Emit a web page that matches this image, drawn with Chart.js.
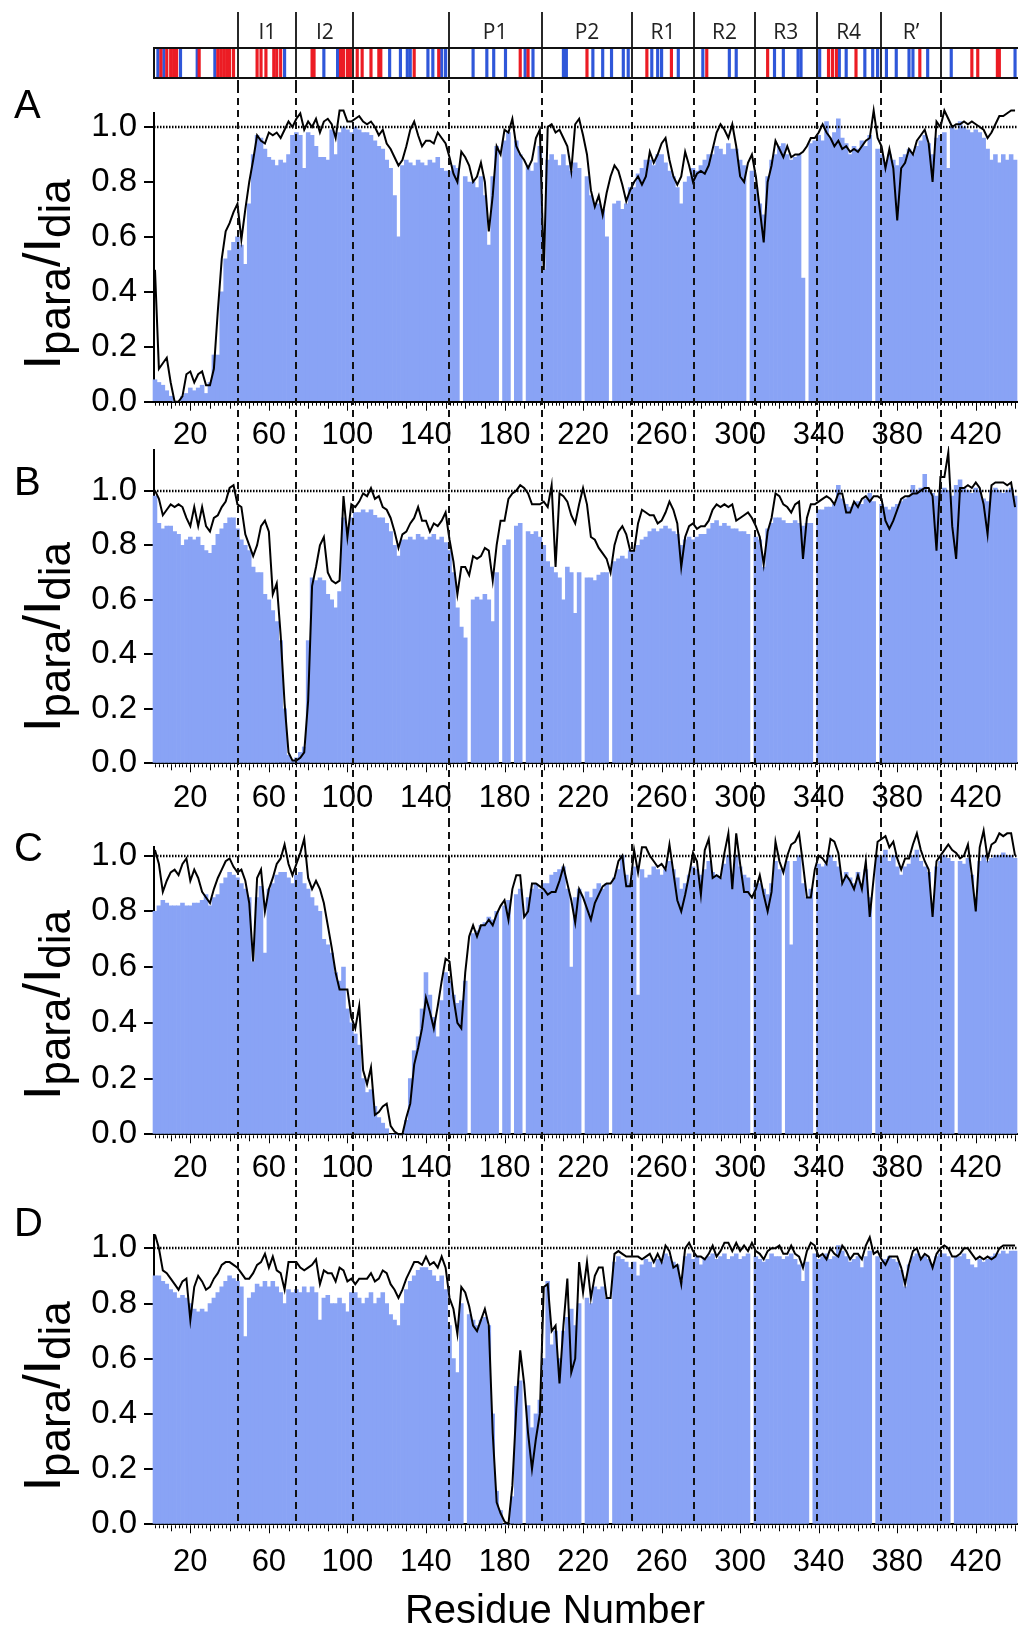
<!DOCTYPE html>
<html>
<head>
<meta charset="utf-8">
<title>Ipara/Idia profiles</title>
<script src="https://cdn.jsdelivr.net/npm/chart.js@4.4.1/dist/chart.umd.min.js"></script>
<style>
  html, body { margin: 0; padding: 0; background: #fff; }
  #page { position: relative; width: 1018px; height: 1634px; overflow: hidden; }
  #page canvas { position: absolute; left: 0; }
</style>
</head>
<body>
<div id="page">
  <canvas id="domainBar" width="1018" height="86" style="top:0px"></canvas>
  <canvas id="panelA" width="1018" height="360" style="top:86px"></canvas>
  <canvas id="panelB" width="1018" height="374" style="top:446px"></canvas>
  <canvas id="panelC" width="1018" height="370" style="top:820px"></canvas>
  <canvas id="panelD" width="1018" height="444" style="top:1190px"></canvas>
</div>
<script>
// residues sampled every 2nd position, starting at residue 2
const residueStart = 2;
const residueStep = 2;

const xTickLabels = [20, 60, 100, 140, 180, 220, 260, 300, 340, 380, 420];
const yTickValues = [0, 0.2, 0.4, 0.6, 0.8, 1.0];

// domain boundaries (residue numbers) and domain names
const domainBounds = [44.5, 74, 103, 151.5, 199, 245, 276.5, 307.5, 339, 371.5, 402.5];
const domainNames = ['I1', 'I2', 'P1', 'P2', 'R1', 'R2', 'R3', 'R4', 'R\u2019'];
const domainFrom  = [44.5, 74, 151.5, 199, 245, 276.5, 307.5, 339, 371.5];
const domainTo    = [74, 103, 199, 245, 276.5, 307.5, 339, 371.5, 402.5];

// sites marked in the sequence bar
const redSites = [5, 8, 10, 11.5, 13, 24.5, 34, 35.5, 37, 38.5, 40, 42, 54, 56, 58.5, 62.5, 64, 66,
  82, 83, 96.5, 98, 100, 101.5, 105, 107.5, 112, 116, 117, 134, 146.5, 188, 192, 222, 252.5, 265,
  283, 314, 345, 347, 349, 359, 391.5, 418, 421, 431, 432];
const blueSites = [3.5, 6.5, 15, 23.5, 32.5, 68, 88, 95, 121.5, 127, 130.5, 132, 141, 143.5, 148, 150,
  164, 171, 174.5, 180.5, 190.5, 194.5, 210, 211.5, 225, 230, 234.5, 240.5, 243, 255, 258, 260, 268.5,
  281, 294.5, 298, 317.5, 322, 329.5, 331, 340.5, 350.5, 354, 363.5, 367.5, 370, 374.5, 379.5, 386,
  388, 395.5, 407.5, 440];

// ---- Panel A ----
const lineA = [
  0.48,0.12,0.14,0.16,0.07,0.0,0.0,0.02,0.1,0.11, 0.07,0.1,0.11,0.06,0.06,0.12,0.33,0.52,0.62,0.65,
  0.69,0.72,0.59,0.7,0.8,0.88,0.97,0.95,0.94,0.98, 0.97,0.98,0.96,0.99,1.02,1.0,1.03,1.05,0.99,1.02,
  1.0,1.03,0.98,1.02,1.03,1.01,0.96,1.06,1.06,1.02, 1.02,1.03,1.04,1.02,1.01,1.02,1.0,0.97,0.99,0.94,
  0.92,0.89,0.86,0.88,0.93,0.99,1.02,0.97,0.93,0.95, 0.95,0.94,0.98,0.96,0.94,0.89,0.83,0.8,0.91,0.89,
  0.86,0.8,0.82,0.87,0.8,0.62,0.75,0.93,0.9,0.99, 0.98,1.03,0.93,0.9,0.88,0.85,0.88,0.96,0.99,0.48,
  1.0,1.01,0.98,0.99,0.96,0.93,0.84,1.01,1.03,0.97, 0.9,0.77,0.71,0.75,0.68,0.76,0.82,0.86,0.84,0.79,
  0.73,0.77,0.8,0.82,0.79,0.82,0.91,0.87,0.9,0.94, 0.96,0.88,0.82,0.79,0.82,0.91,0.86,0.8,0.83,0.84,
  0.83,0.86,0.92,0.98,1.01,0.99,0.96,1.01,0.93,0.82, 0.8,0.87,0.9,0.82,0.7,0.58,0.8,0.86,0.95,0.92,
  0.89,0.93,0.89,0.9,0.9,0.91,0.93,0.96,0.96,0.98, 1.01,0.98,0.96,0.93,0.95,0.92,0.93,0.91,0.92,0.91,
  0.93,0.95,0.96,1.06,0.96,0.93,0.85,0.92,0.85,0.66, 0.85,0.87,0.92,0.9,0.95,0.97,0.99,0.94,0.8,1.02,
  1.0,1.06,1.03,1.0,1.01,1.01,1.02,1.01,1.02,1.01, 1.0,0.99,0.96,0.98,1.01,1.04,1.04,1.05,1.06,1.06
];
const barsA = [
  0.08,0.07,0.06,0.04,0.02,0.0,0.0,0.02,0.03,0.05, 0.04,0.05,0.06,0.03,0.07,0.17,0.17,0.4,0.52,0.55,
  0.58,0.6,0.57,0.5,0.72,0.9,0.97,0.96,0.92,0.89, 0.88,0.86,0.88,0.87,0.9,0.97,0.98,0.97,0.85,0.98,
  0.97,0.93,0.89,0.89,0.88,0.99,0.9,0.98,1.0,0.99, 0.98,1.0,0.99,0.98,0.98,0.97,0.95,0.93,0.92,0.88,
  0.85,0.75,0.6,0.86,0.88,0.87,0.86,0.88,0.87,0.86, 0.88,0.87,0.89,0.85,0.84,0.84,0.86,0.85,null,0.82,
  0.8,0.8,0.78,0.82,0.75,0.57,0.82,0.93,null,0.95, 0.98,null,0.95,0.9,null,0.86,0.84,0.87,0.93,0.48,
  0.88,0.9,0.88,0.86,0.9,0.86,0.84,0.87,0.85,null, 0.82,0.75,0.72,0.72,0.7,0.6,null,0.72,0.73,0.7,
  0.72,0.78,0.78,0.83,0.85,0.88,0.88,0.86,0.9,0.9, 0.87,0.84,0.82,0.78,0.72,0.8,0.82,0.85,0.84,0.86,
  0.88,0.9,0.9,0.93,0.92,0.9,0.94,0.92,0.92,0.88, 0.86,null,0.84,0.78,0.72,0.68,0.82,0.88,0.9,0.93,
  0.94,0.9,0.88,0.89,0.9,0.45,null,0.94,0.95,0.97, 0.95,1.02,0.96,0.98,1.03,0.96,0.94,0.9,0.93,0.92,
  0.95,0.93,0.97,null,0.92,0.9,0.87,0.9,0.88,0.86, 0.89,0.9,0.92,0.9,0.93,0.95,0.97,0.94,0.9,0.96,
  0.97,0.98,0.85,1.0,0.99,1.02,1.0,0.99,0.98,0.99, 0.98,0.96,0.92,0.88,0.9,0.87,0.9,0.88,0.9,0.88
];

// ---- Panel B ----
const lineB = [
  1.0,0.97,0.91,0.93,0.95,0.94,0.95,0.94,0.9,0.87, 0.94,0.87,0.94,0.87,0.85,0.9,0.91,0.94,0.96,1.01,
  1.02,0.95,0.94,0.84,0.8,0.76,0.8,0.87,0.89,0.85, 0.62,0.66,0.47,0.22,0.04,0.01,0.01,0.02,0.04,0.23,
  0.65,0.72,0.8,0.83,0.7,0.67,0.66,0.67,0.98,0.83, 0.95,0.94,0.96,0.99,0.98,1.01,0.97,0.98,0.94,0.93,
  0.9,0.85,0.79,0.84,0.85,0.88,0.9,0.94,0.89,0.89, 0.85,0.88,0.87,0.89,0.92,0.82,0.74,0.62,0.72,0.72,
  0.69,0.76,0.75,0.76,0.79,0.78,0.67,0.8,0.89,0.89, 0.97,0.99,1.0,1.02,1.01,0.99,0.95,0.95,0.95,0.96,
  0.94,1.02,0.72,0.99,0.98,0.96,0.91,0.88,0.95,1.01, 0.95,0.83,0.82,0.79,0.77,0.75,0.7,0.8,0.85,0.87,
  0.84,0.78,0.78,0.88,0.93,0.92,0.91,0.91,0.88,0.89, 0.92,0.96,0.93,0.88,0.72,0.83,0.87,0.88,0.86,0.87,
  0.87,0.89,0.93,0.95,0.94,0.95,0.94,0.95,0.89,0.9, 0.91,0.92,0.9,0.87,0.83,0.73,0.85,0.9,0.99,0.98,
  0.95,0.94,0.92,0.95,0.96,0.75,0.9,0.95,0.95,0.96, 0.97,0.98,0.97,0.95,0.99,0.99,0.92,0.92,0.96,0.94,
  0.97,0.98,0.96,0.98,0.98,0.97,0.89,0.86,0.89,0.93, 0.97,0.98,0.98,0.99,0.99,1.0,1.01,1.01,0.98,0.78,
  1.05,1.05,1.14,0.87,0.75,1.01,1.01,1.02,1.01,1.03, 1.01,0.95,0.84,1.02,1.03,1.03,1.03,1.02,1.03,0.94
];
const barsB = [
  0.98,0.88,0.86,0.87,0.87,0.85,0.84,0.8,0.82,0.83, 0.82,0.83,0.8,0.78,0.77,0.8,0.84,0.86,0.88,0.9,
  0.9,0.86,0.82,0.8,0.78,0.72,0.7,0.7,0.62,0.6, 0.56,0.52,0.45,0.2,0.03,0.01,0.02,0.04,0.06,0.45,
  0.68,0.67,0.68,0.67,0.62,0.6,0.57,0.63,0.9,0.86, 0.9,0.92,0.92,0.93,0.92,0.93,0.91,0.9,0.9,0.88,
  0.85,0.8,0.76,0.82,0.82,0.83,0.82,0.84,0.83,0.82, 0.83,0.84,0.82,0.83,0.81,0.78,0.7,0.57,0.5,0.46,
  null,0.6,0.61,0.6,0.62,0.6,0.52,0.7,null,0.8, 0.82,null,0.87,0.88,null,0.85,0.84,0.85,0.83,0.8,
  0.74,0.72,0.7,0.68,0.6,0.72,0.7,0.55,0.7,null, 0.68,0.68,0.67,0.69,0.7,0.7,null,0.74,0.75,0.76,
  0.75,0.78,0.78,0.8,0.82,0.83,0.85,0.86,0.85,0.86, 0.87,0.86,0.85,0.84,0.8,0.82,0.83,0.82,0.83,0.84,
  0.84,0.86,0.88,0.89,0.87,0.88,0.87,0.86,0.86,0.85, 0.85,0.84,null,0.83,0.82,0.72,0.86,0.88,0.9,0.9,
  0.89,0.88,0.88,0.89,0.88,0.87,0.88,0.88,null,0.93, 0.93,0.94,0.94,0.95,1.02,0.97,0.95,0.94,0.95,0.96,
  0.95,0.97,0.99,0.96,null,0.95,0.94,0.93,0.94,0.95, 0.96,0.97,0.98,1.02,1.0,1.01,1.06,1.0,0.99,0.98,
  1.0,1.01,1.0,0.98,1.02,1.04,1.01,1.0,0.99,1.01, 1.0,0.97,0.96,1.0,1.01,1.0,0.99,1.0,1.01,0.98
];

// ---- Panel C ----
const lineC = [
  1.02,0.97,0.87,0.91,0.94,0.95,0.93,0.97,0.99,0.91, 0.95,0.92,0.87,0.85,0.83,0.88,0.92,0.95,0.98,0.99,
  0.96,0.94,0.95,0.91,0.83,0.62,0.92,0.95,0.8,0.88, 0.92,0.97,0.99,1.04,0.97,0.93,0.97,1.01,1.06,0.92,
  0.88,0.91,0.88,0.83,0.75,0.67,0.58,0.52,0.52,0.52, 0.42,0.38,0.46,0.23,0.18,0.24,0.07,0.08,0.1,0.11,
  0.03,0.01,0.0,0.0,0.06,0.11,0.25,0.31,0.38,0.49, 0.44,0.38,0.46,0.55,0.63,0.62,0.49,0.4,0.38,0.58,
  0.71,0.75,0.71,0.75,0.75,0.77,0.75,0.79,0.82,0.84, 0.77,0.88,0.93,0.93,0.78,0.8,0.9,0.9,0.89,0.88,
  0.86,0.87,0.87,0.91,0.96,0.9,0.84,0.76,0.88,0.85, 0.81,0.77,0.83,0.86,0.89,0.9,0.9,0.92,0.98,1.0,
  0.89,0.89,1.02,0.94,1.03,1.03,1.0,0.98,0.96,0.97, 0.95,1.04,0.94,0.84,0.8,0.86,0.93,1.01,0.98,0.86,
  1.02,1.06,0.92,0.93,0.92,1.01,1.08,0.88,1.08,0.97, 0.87,0.87,0.85,0.88,0.93,0.86,0.8,0.87,1.05,0.98,
  0.94,1.0,1.04,1.05,1.08,0.97,0.85,0.85,0.95,1.0, 0.99,0.97,1.06,1.05,1.01,0.9,0.93,0.91,0.88,0.93,
  0.88,0.98,0.78,0.92,1.05,1.06,1.07,1.03,1.05,0.99, 0.95,0.99,0.99,1.04,1.08,1.02,0.98,0.95,0.78,0.98,
  1.0,1.02,1.04,1.02,1.01,0.99,1.0,1.04,0.93,0.8, 1.03,1.09,0.99,1.04,1.05,1.08,1.07,1.08,1.08,1.0
];
const barsC = [
  0.8,0.82,0.84,0.83,0.82,0.82,0.82,0.83,0.82,0.82, 0.83,0.83,0.84,0.86,0.82,0.85,0.86,0.9,0.92,0.94,
  0.93,0.92,0.9,0.88,0.85,0.62,0.85,0.89,0.65,0.88, 0.9,0.93,0.94,0.94,0.92,0.9,0.93,0.94,0.9,0.88,
  0.85,0.82,0.8,0.7,0.68,0.65,0.58,0.55,0.6,0.45, 0.4,0.36,0.32,0.2,0.15,0.16,0.1,0.06,0.04,0.02,
  0.0,0.0,0.0,0.0,0.05,0.2,0.3,0.35,0.45,0.58, 0.5,0.42,0.35,0.48,0.58,0.55,0.5,0.47,0.48,0.55,
  null,0.72,0.73,0.75,0.76,0.78,0.77,0.8,null,0.82, 0.84,null,0.86,0.88,null,0.85,0.88,0.9,0.88,0.9,
  0.9,0.93,0.94,0.95,0.96,0.88,0.6,0.85,0.88,null, 0.87,0.85,0.88,0.9,0.88,0.9,null,0.92,0.95,1.0,
  0.93,0.9,0.96,0.5,0.95,0.92,0.93,0.96,0.95,0.93, 0.95,0.98,0.95,0.92,0.88,0.9,0.93,0.96,0.95,0.93,
  0.95,0.98,0.94,0.93,0.92,0.97,1.0,0.93,1.0,0.96, 0.93,0.92,null,0.9,0.9,0.88,0.86,0.9,0.98,0.95,
  null,0.98,0.68,0.98,1.0,0.9,0.85,0.88,null,0.97, 0.96,0.97,1.0,0.98,0.96,0.9,0.94,0.92,0.9,0.94,
  0.9,0.95,0.85,null,1.0,1.0,1.02,0.98,1.0,0.96, 0.93,0.96,0.97,1.0,1.02,0.98,0.96,0.94,0.82,0.96,
  0.98,1.0,0.99,0.98,null,0.98,0.97,0.99,0.93,0.85, 0.98,1.0,0.98,0.99,1.0,1.0,1.01,1.0,1.0,0.99
];

// ---- Panel D ----
const lineD = [
  1.05,1.0,0.92,0.91,0.89,0.87,0.85,0.88,0.89,0.74, 0.86,0.9,0.88,0.85,0.86,0.89,0.91,0.94,0.95,0.95,
  0.94,0.93,0.91,0.89,0.89,0.91,0.94,0.95,0.98,0.93, 0.97,0.92,0.91,0.85,0.95,0.95,0.95,0.93,0.92,0.93,
  0.94,0.96,0.87,0.92,0.91,0.91,0.88,0.93,0.92,0.88, 0.89,0.87,0.89,0.89,0.89,0.91,0.88,0.89,0.92,0.91,
  0.87,0.85,0.82,0.85,0.89,0.92,0.95,0.95,0.94,0.97, 0.94,0.95,0.93,0.97,0.93,0.82,0.78,0.69,0.86,0.84,
  0.79,0.72,0.7,0.74,0.78,0.72,0.33,0.08,0.04,0.01, 0.0,0.14,0.42,0.63,0.51,0.33,0.2,0.31,0.4,0.86,
  0.87,0.7,0.72,0.51,0.72,0.89,0.55,0.6,0.95,0.84, 0.95,0.82,0.9,0.93,0.93,0.82,0.82,0.98,0.99,0.98,
  0.97,0.97,0.97,0.97,0.96,0.97,0.98,0.95,0.98,0.95, 1.01,0.99,0.93,0.94,0.87,1.0,1.02,0.99,0.97,0.97,
  0.96,0.98,1.01,0.97,0.99,1.02,1.02,0.99,1.02,0.99, 1.01,0.99,1.02,0.99,0.98,0.96,0.99,1.0,1.0,1.01,
  0.98,0.98,1.01,0.98,0.97,0.93,0.99,1.02,1.01,0.97, 0.98,0.96,1.0,0.98,0.97,1.01,0.99,0.96,0.98,0.98,
  0.96,1.01,1.04,0.98,0.99,0.96,0.94,0.97,0.97,0.97, 0.93,0.87,0.94,0.99,1.0,0.96,0.98,0.97,0.93,0.98,
  1.0,1.01,1.0,0.97,0.97,0.98,1.0,1.0,0.98,0.96, 0.97,0.96,0.97,0.96,0.97,1.0,1.01,1.01,1.01,1.01
];
const barsD = [
  0.9,0.9,0.88,0.87,0.85,0.84,0.82,0.83,0.82,0.8, 0.78,0.77,0.78,0.77,0.8,0.82,0.84,0.86,0.88,0.9,
  0.89,0.88,0.86,0.68,0.82,0.84,0.87,0.86,0.88,0.86, 0.88,0.86,0.84,0.8,0.85,0.84,0.85,0.84,0.86,0.84,
  0.86,0.84,0.74,0.82,0.83,0.8,0.8,0.82,0.8,0.77, 0.84,0.84,0.82,0.8,0.82,0.84,0.8,0.82,0.84,0.8,
  0.76,0.74,0.72,0.8,0.85,0.88,0.9,0.92,0.93,0.93, 0.92,0.9,0.88,0.9,0.85,0.72,0.6,0.55,0.8,null,
  0.76,0.74,0.72,0.74,0.75,0.72,0.4,0.12,0.05,0.0, 0.0,0.1,0.5,0.52,null,0.43,0.35,0.4,0.45,0.6,
  0.88,0.65,0.7,0.6,0.7,0.75,0.78,0.72,0.8,null, 0.82,0.8,0.86,0.85,0.86,0.82,null,0.95,0.97,0.96,
  0.95,0.93,0.95,0.9,0.94,0.96,0.95,0.93,0.96,0.95, 0.98,0.97,0.95,0.94,0.88,0.97,0.98,0.96,0.97,0.94,
  0.96,0.97,0.98,0.96,0.97,0.98,0.96,0.97,0.98,0.96, 0.97,0.98,null,0.97,0.96,0.95,0.96,0.98,0.97,0.97,
  0.96,0.97,0.98,0.96,0.94,0.88,0.95,null,0.98,0.96, 0.97,0.98,0.96,0.97,1.01,0.99,0.97,0.95,0.96,0.97,
  0.93,0.97,0.99,null,0.97,0.95,0.96,0.97,0.96,0.95, 0.92,0.86,0.94,0.97,0.98,0.96,0.97,0.96,0.94,0.97,
  0.98,0.98,0.97,null,0.97,0.97,0.98,0.96,0.94,0.93, 0.96,0.95,0.96,0.97,0.98,0.98,0.99,0.98,0.99,0.99
];

// ---- shared look ----
const xMin = 1.5, xMax = 441.5;
const plotLeft = 154;
const fontFamily = '"Liberation Sans", Arial, Helvetica, sans-serif';
const barColor = '#89a3f5';
const inkColor = '#111';

function residuePoints(values) {
  return values.map((v, i) => ({ x: residueStart + i * residueStep, y: v }));
}

function drawDashedBounds(ctx, xScale, y0, y1) {
  ctx.save();
  ctx.strokeStyle = inkColor;
  ctx.lineWidth = 2;
  ctx.setLineDash([7, 5]);
  domainBounds.forEach(b => {
    const px = Math.round(xScale.getPixelForValue(b));
    ctx.beginPath();
    ctx.moveTo(px, y0);
    ctx.lineTo(px, y1);
    ctx.stroke();
  });
  ctx.restore();
}

function drawYTitle(ctx, baseX, centerY) {
  const big = '52px ' + fontFamily;
  const small = '44px ' + fontFamily;
  const parts = [['I', big, 0], ['para', small, 10], ['/', big, 0], ['I', big, 0], ['dia', small, 10]];
  ctx.save();
  ctx.translate(baseX, centerY);
  ctx.rotate(-Math.PI / 2);
  ctx.fillStyle = '#000';
  ctx.textBaseline = 'alphabetic';
  ctx.textAlign = 'left';
  let total = 0;
  parts.forEach(p => { ctx.font = p[1]; total += ctx.measureText(p[0]).width; });
  let pos = -total / 2;
  parts.forEach(p => {
    ctx.font = p[1];
    ctx.fillText(p[0], pos, p[2]);
    pos += ctx.measureText(p[0]).width;
  });
  ctx.restore();
}

function panelDecor(p) {
  return {
    id: 'panelDecor',
    afterDatasetsDraw(chart) {
      const { ctx, chartArea: a, scales: { y } } = chart;
      const y1 = Math.round(y.getPixelForValue(1));
      ctx.save();
      ctx.strokeStyle = '#000';
      ctx.lineWidth = 2.5;
      ctx.setLineDash([1.5, 1.5]);
      ctx.beginPath();
      ctx.moveTo(a.left, y1);
      ctx.lineTo(a.right, y1);
      ctx.stroke();
      ctx.restore();
    },
    afterDraw(chart) {
      const { ctx, chartArea: a, scales: { x, y } } = chart;
      // minor ticks under the residue axis
      ctx.save();
      ctx.strokeStyle = '#000';
      ctx.lineWidth = 1;
      for (let r = 2; r <= 440; r += 2) {
        const px = Math.round(x.getPixelForValue(r)) + 0.5;
        let len = r % 10 === 0 ? 7 : 4;
        if (xTickLabels.includes(r)) len = 9;
        ctx.beginPath();
        ctx.moveTo(px, a.bottom + 1);
        ctx.lineTo(px, a.bottom + len);
        ctx.stroke();
      }
      ctx.restore();

      drawDashedBounds(ctx, x, 0, p.last ? a.bottom : chart.height);

      ctx.save();
      ctx.fillStyle = '#000';
      ctx.font = '40px ' + fontFamily;
      ctx.textBaseline = 'alphabetic';
      ctx.fillText(p.letter, 14, p.letterY);
      ctx.restore();

      const mid = (y.getPixelForValue(0) + y.getPixelForValue(1)) / 2 + 10;
      drawYTitle(ctx, 60, mid);

      if (p.last) {
        ctx.save();
        ctx.fillStyle = '#000';
        ctx.font = '40px ' + fontFamily;
        ctx.textAlign = 'center';
        ctx.textBaseline = 'middle';
        ctx.fillText('Residue Number', 555, 422);
        ctx.restore();
      }
    }
  };
}

function makePanel(id, p) {
  return new Chart(document.getElementById(id), {
    type: 'bar',
    data: {
      datasets: [
        {
          type: 'line', data: residuePoints(p.line), borderColor: '#000', borderWidth: 2,
          pointRadius: 0, tension: 0, clip: false, spanGaps: true, order: 0
        },
        {
          type: 'bar', data: residuePoints(p.bars), backgroundColor: barColor, borderWidth: 0,
          barPercentage: 1, categoryPercentage: 1, grouped: false, clip: false, order: 1
        }
      ]
    },
    options: {
      responsive: false,
      animation: false,
      devicePixelRatio: 1,
      events: [],
      layout: { padding: { top: p.topPad, left: 0, right: 0, bottom: 0 }, autoPadding: false },
      plugins: { legend: { display: false }, tooltip: { enabled: false } },
      scales: {
        x: {
          type: 'linear', min: xMin, max: xMax, offset: false,
          grid: { display: false, drawTicks: false },
          border: { display: true, color: '#000', width: 2 },
          ticks: {
            color: '#000', font: { family: fontFamily, size: 31 }, padding: p.labelPad,
            maxRotation: 0, autoSkip: false, callback: v => String(v)
          },
          afterBuildTicks: s => { s.ticks = xTickLabels.map(v => ({ value: v })); },
          afterFit: s => { s.height = p.xAxisH; s.paddingLeft = 0; s.paddingRight = 0; }
        },
        y: {
          type: 'linear', min: 0, max: p.yMax,
          grid: { drawOnChartArea: false, drawTicks: true, tickLength: 10, color: '#000', lineWidth: 2 },
          border: { display: true, color: '#000', width: 2 },
          ticks: { color: '#000', font: { family: fontFamily, size: 33 }, padding: 7, callback: v => v.toFixed(1) },
          afterBuildTicks: s => { s.ticks = yTickValues.map(v => ({ value: v })); },
          afterFit: s => { s.width = plotLeft; s.paddingTop = 0; s.paddingBottom = 0; }
        }
      }
    },
    plugins: [panelDecor(p)]
  });
}

// ---- sequence / domain bar ----
const domainDecor = {
  id: 'domainDecor',
  afterDraw(chart) {
    const { ctx, chartArea: a, scales: { x } } = chart;
    ctx.save();
    ctx.strokeStyle = inkColor;
    ctx.lineWidth = 2;
    ctx.beginPath();
    ctx.moveTo(a.right, a.top); ctx.lineTo(a.left, a.top);
    ctx.lineTo(a.left, a.bottom); ctx.lineTo(a.right, a.bottom);
    ctx.stroke();
    ctx.lineWidth = 1.8;
    domainBounds.forEach(b => {
      const px = Math.round(x.getPixelForValue(b));
      ctx.beginPath();
      ctx.moveTo(px, 12);
      ctx.lineTo(px, a.bottom);
      ctx.stroke();
    });
    ctx.fillStyle = '#222';
    ctx.font = '21px "Open Sans", "Liberation Sans", sans-serif';
    ctx.textAlign = 'center';
    ctx.textBaseline = 'alphabetic';
    domainNames.forEach((n, i) => {
      const cx = (x.getPixelForValue(domainFrom[i]) + x.getPixelForValue(domainTo[i])) / 2;
      ctx.fillText(n, cx, 39);
    });
    ctx.restore();
    drawDashedBounds(ctx, x, a.bottom + 2, chart.height);
  }
};

new Chart(document.getElementById('domainBar'), {
  type: 'bar',
  data: {
    datasets: [
      { data: redSites.map(r => ({ x: r, y: 1 })), backgroundColor: '#ec1c24', barThickness: 2.5, grouped: false },
      { data: blueSites.map(r => ({ x: r, y: 1 })), backgroundColor: '#2f57d9', barThickness: 2.5, grouped: false }
    ]
  },
  options: {
    responsive: false,
    animation: false,
    devicePixelRatio: 1,
    events: [],
    layout: { padding: { left: plotLeft, right: 0, top: 48, bottom: 8 }, autoPadding: false },
    plugins: { legend: { display: false }, tooltip: { enabled: false } },
    scales: {
      x: { type: 'linear', display: false, min: xMin, max: xMax, offset: false },
      y: { display: false, min: 0, max: 1 }
    }
  },
  plugins: [domainDecor]
});

makePanel('panelA', { line: lineA, bars: barsA, yMax: 1.05, topPad: 27.3, xAxisH: 44.3, labelPad: 15, letter: 'A', letterY: 32 });
makePanel('panelB', { line: lineB, bars: barsB, yMax: 1.15, topPad: 3.8, xAxisH: 56.7, labelPad: 17, letter: 'B', letterY: 49 });
makePanel('panelC', { line: lineC, bars: barsC, yMax: 1.03, topPad: 27.3, xAxisH: 55.7, labelPad: 16, letter: 'C', letterY: 41 });
makePanel('panelD', { line: lineD, bars: barsD, yMax: 1.05, topPad: 44.5, xAxisH: 109.7, labelPad: 20, letter: 'D', letterY: 46, last: true });
</script>
</body>
</html>
